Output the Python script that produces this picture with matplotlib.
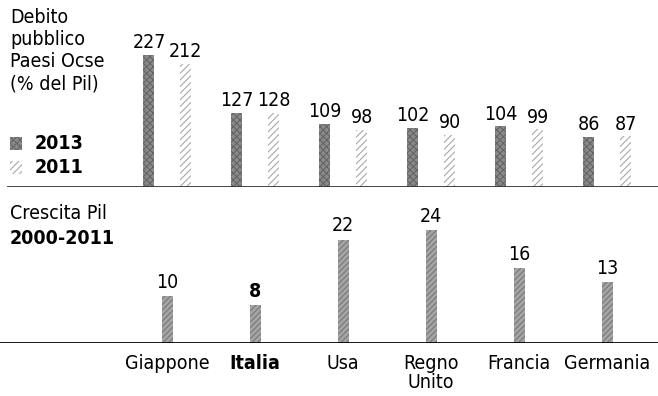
import numpy as np
import matplotlib.pyplot as plt
from matplotlib.patches import Rectangle

plt.rcParams['font.family'] = ['DejaVu Sans']
plt.rcParams['font.stretch'] = 'condensed'
plt.rcParams['hatch.linewidth'] = 0.8

# Dati
paesi = ['Giappone', 'Italia', 'Usa', 'Regno\nUnito', 'Francia', 'Germania']
debito_2013 = [227, 127, 109, 102, 104, 86]
debito_2011 = [212, 128, 98, 90, 99, 87]
crescita = [10, 8, 22, 24, 16, 13]

W, H = 658, 396
fig = plt.figure(figsize=(W / 100, H / 100), dpi=100)

y_top = 187   # linea di base pannello debito (px)
y_bot = 343   # linea di base pannello crescita (px)

x = np.arange(len(paesi))
xlim = ((0 - 167) / 88, (W - 167) / 88)
bw = 0.125

col13 = '#8a8a8a'
col_g = '#a5a5a5'

# Pannello superiore: debito pubblico
ax1 = fig.add_axes([0, 1 - y_top / H, 1, y_top / H])
ax1.set_xlim(*xlim)
ax1.set_ylim(0, y_top / 0.582)
ax1.bar(x - 0.205, debito_2013, width=bw, color=col13, edgecolor='#666666',
        hatch='xxxxx', linewidth=0)
ax1.bar(x + 0.215, debito_2011, width=bw, color='white', edgecolor='#a8a8a8',
        hatch='/////', linewidth=0)
for i in range(len(paesi)):
    ax1.annotate(str(debito_2013[i]), (x[i] - 0.205, debito_2013[i]),
                 xytext=(0, 2), textcoords='offset points', ha='center',
                 va='bottom', fontsize=14)
    ax1.annotate(str(debito_2011[i]), (x[i] + 0.215, debito_2011[i]),
                 xytext=(0, 2), textcoords='offset points', ha='center',
                 va='bottom', fontsize=14)
ax1.axhline(0, xmin=8 / W, color='#333333', lw=2)
ax1.axis('off')

# Pannello inferiore: crescita Pil
ax2 = fig.add_axes([0, 1 - y_bot / H, 1, (y_bot - y_top) / H])
ax2.set_xlim(*xlim)
ax2.set_ylim(0, (y_bot - y_top) / 4.7)
ax2.bar(x, crescita, width=bw, color=col_g, edgecolor='#777777',
        hatch='//////', linewidth=0)
for i in range(len(paesi)):
    ax2.annotate(str(crescita[i]), (x[i], crescita[i]),
                 xytext=(0, 3), textcoords='offset points', ha='center',
                 va='bottom', fontsize=14,
                 fontweight='bold' if paesi[i] == 'Italia' else 'normal')
ax2.axhline(0, color='black', lw=2)
ax2.axis('off')

# Etichette paesi
for i, p in enumerate(paesi):
    ax2.text(x[i], -2.4, p, ha='center', va='top', fontsize=14,
             linespacing=1.0,
             fontweight='bold' if p == 'Italia' else 'normal')

# Titoli e legenda
fig.text(10 / W, 1 - 8 / H, 'Debito\npubblico\nPaesi Ocse\n(% del Pil)',
         ha='left', va='top', fontsize=14, linespacing=1.2)
fig.patches.append(Rectangle((10 / W, 1 - 150 / H), 12 / W, 13 / H,
                             transform=fig.transFigure, facecolor=col13,
                             edgecolor='#666666', hatch='xxxxx', lw=0))
fig.patches.append(Rectangle((10 / W, 1 - 174 / H), 12 / W, 13 / H,
                             transform=fig.transFigure, facecolor='white',
                             edgecolor='#a8a8a8', hatch='/////', lw=0))
fig.text(35 / W, 1 - 143.5 / H, '2013', ha='left', va='center',
         fontsize=14, fontweight='bold')
fig.text(35 / W, 1 - 167.5 / H, '2011', ha='left', va='center',
         fontsize=14, fontweight='bold')
fig.text(10 / W, 1 - 204 / H, 'Crescita Pil', ha='left', va='top',
         fontsize=14)
fig.text(10 / W, 1 - 229 / H, '2000-2011', ha='left', va='top',
         fontsize=14, fontweight='bold')

fig.savefig('out.png', dpi=100)
